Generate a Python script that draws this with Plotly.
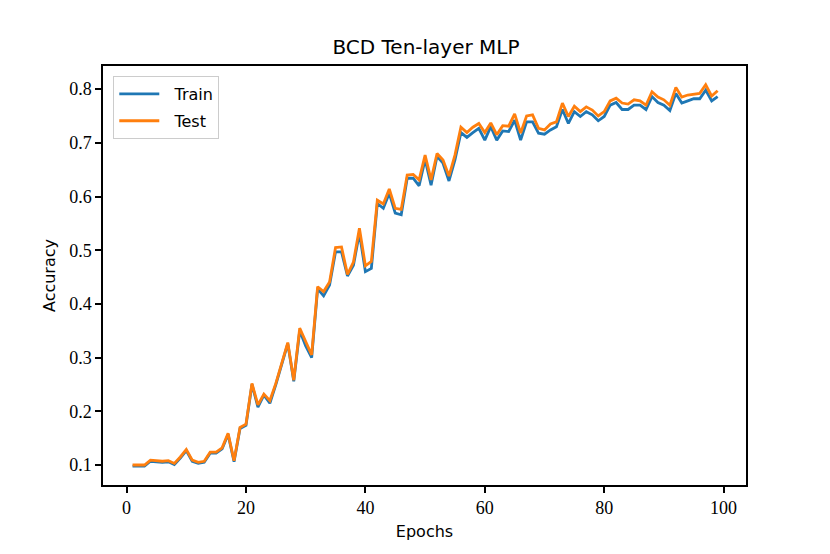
import plotly.graph_objects as go

epochs = list(range(1, 100))

test_acc = [
    0.100, 0.100, 0.100, 0.109, 0.108, 0.107, 0.108, 0.103, 0.115, 0.129,
    0.109, 0.105, 0.107, 0.124, 0.124, 0.132, 0.159, 0.108, 0.170, 0.176,
    0.252, 0.212, 0.232, 0.220, 0.252, 0.292, 0.328, 0.258, 0.355, 0.330,
    0.305, 0.432, 0.423, 0.441, 0.505, 0.506, 0.455, 0.478, 0.541, 0.471,
    0.479, 0.593, 0.586, 0.614, 0.578, 0.576, 0.640, 0.641, 0.631, 0.677,
    0.631, 0.680, 0.668, 0.638, 0.677, 0.729, 0.719, 0.729, 0.736, 0.719,
    0.737, 0.715, 0.732, 0.731, 0.754, 0.718, 0.750, 0.752, 0.727, 0.724,
    0.735, 0.739, 0.774, 0.749, 0.768, 0.758, 0.767, 0.761, 0.750, 0.758,
    0.778, 0.783, 0.774, 0.772, 0.780, 0.778, 0.770, 0.795, 0.785, 0.780,
    0.770, 0.803, 0.785, 0.789, 0.791, 0.792, 0.808, 0.787, 0.797,
]

train_acc = [
    0.098, 0.098, 0.098, 0.107, 0.106, 0.105, 0.106, 0.101, 0.113, 0.127,
    0.107, 0.103, 0.105, 0.122, 0.122, 0.130, 0.157, 0.106, 0.168, 0.174,
    0.250, 0.208, 0.230, 0.215, 0.250, 0.290, 0.326, 0.256, 0.350, 0.322,
    0.300, 0.428, 0.415, 0.435, 0.497, 0.497, 0.452, 0.472, 0.532, 0.460,
    0.466, 0.587, 0.578, 0.606, 0.569, 0.566, 0.634, 0.634, 0.620, 0.669,
    0.621, 0.675, 0.662, 0.629, 0.668, 0.719, 0.710, 0.719, 0.727, 0.705,
    0.730, 0.705, 0.722, 0.721, 0.742, 0.705, 0.739, 0.739, 0.718, 0.716,
    0.724, 0.730, 0.762, 0.736, 0.758, 0.749, 0.758, 0.752, 0.741, 0.749,
    0.770, 0.775, 0.762, 0.762, 0.770, 0.770, 0.762, 0.786, 0.775, 0.770,
    0.760, 0.792, 0.774, 0.778, 0.782, 0.782, 0.798, 0.778, 0.786,
]

x_ticks = [0, 20, 40, 60, 80, 100]
y_ticks = [0.1, 0.2, 0.3, 0.4, 0.5, 0.6, 0.7, 0.8]

fig = go.Figure()
fig.add_trace(go.Scatter(x=epochs, y=train_acc, mode="lines",
                         name="\u00a0\u00a0Train", legendgroup="train",
                         line=dict(color="#1f77b4", width=2.8)))
fig.add_trace(go.Scatter(x=epochs, y=test_acc, mode="lines",
                         name="\u00a0\u00a0Test", legendgroup="test",
                         line=dict(color="#ff7f0e", width=2.8)))

sans = "DejaVu Sans"
serif = "Liberation Serif"

axis_common = dict(
    showgrid=False, zeroline=False, showline=True, mirror=True,
    linecolor="black", linewidth=1.5, ticks="outside", ticklen=6,
    tickwidth=1.5, tickcolor="black",
    tickfont=dict(family=serif, size=18, color="black"),
)

fig.update_layout(
    width=830, height=554,
    margin=dict(l=95, r=92, t=58, b=77),
    paper_bgcolor="white", plot_bgcolor="white",
    title=dict(text="BCD Ten-layer MLP", x=(426 - 8) / 830, xanchor="center",
               y=1 - 39 / 554, yanchor="middle",
               font=dict(family=sans, size=20, color="black")),
    xaxis=dict(range=[-3.95, 103.75], tickvals=x_ticks,
               ticktext=[str(v) for v in x_ticks],
               title=dict(text="Epochs", standoff=8,
                          font=dict(family=sans, size=16, color="black")),
               **axis_common),
    yaxis=dict(range=[0.0628, 0.843], tickvals=y_ticks,
               ticktext=[f"{v:.1f}" for v in y_ticks],
               title=dict(text="Accuracy", standoff=10,
                          font=dict(family=sans, size=16, color="black")),
               **axis_common),
    legend=dict(x=0.016, y=0.976, xanchor="left", yanchor="top",
                bgcolor="rgba(255,255,255,0.8)", bordercolor="#cccccc",
                borderwidth=1, itemwidth=40, traceorder="grouped",
                tracegroupgap=3,
                font=dict(family=sans, size=16, color="black")),
    showlegend=True,
)

fig.write_html("out.html")
